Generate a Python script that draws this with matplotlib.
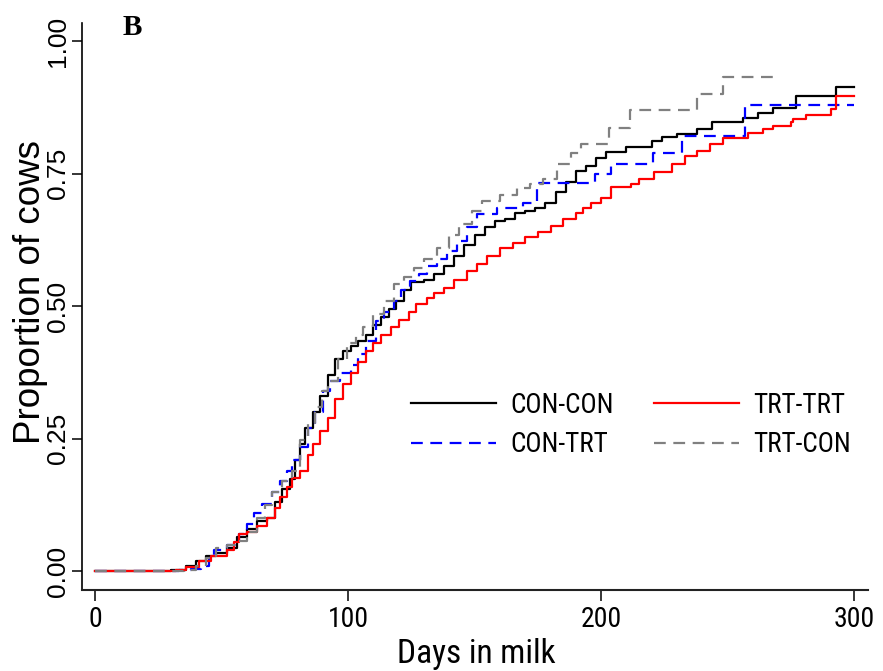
import matplotlib
matplotlib.use("Agg")
import matplotlib.pyplot as plt

# Kaplan-Meier style cumulative proportions (steps-post)
con_con_days = [0, 30, 36, 40, 44, 48, 52, 56, 60, 64, 68, 71, 74, 77, 79, 81, 83, 86, 89, 92,
                95, 98, 101, 104, 107, 110, 113, 116, 119, 122, 125, 130, 134, 138, 142, 146,
                150, 154, 158, 162, 166, 170, 174, 178, 182, 186, 190, 194, 198, 202, 210,
                220, 224, 230, 238, 244, 256, 262, 268, 277, 293, 300]
con_con_prop = [0, 0.003, 0.01, 0.02, 0.03, 0.035, 0.045, 0.065, 0.08, 0.095, 0.10, 0.13,
                0.155, 0.175, 0.21, 0.24, 0.27, 0.30, 0.33, 0.37, 0.40, 0.415, 0.425, 0.435,
                0.445, 0.465, 0.48, 0.495, 0.51, 0.53, 0.545, 0.55, 0.56, 0.575, 0.595, 0.615,
                0.635, 0.65, 0.66, 0.665, 0.675, 0.68, 0.685, 0.695, 0.715, 0.735, 0.755,
                0.765, 0.78, 0.79, 0.80, 0.812, 0.82, 0.825, 0.835, 0.847, 0.855, 0.865,
                0.874, 0.896, 0.913, 0.913]

trt_trt_days = [0, 32, 36, 41, 46, 52, 55, 57, 60, 64, 68, 71, 73, 76, 78, 81, 84, 86, 89, 92,
                95, 98, 101, 104, 107, 110, 113, 117, 120, 124, 127, 131, 134, 138, 142, 147,
                151, 155, 160, 165, 170, 175, 180, 185, 190, 193, 196, 200, 204, 212, 215,
                221, 228, 233, 238, 243, 248, 258, 264, 268, 275, 276, 281, 291, 293, 300]
trt_trt_prop = [0, 0.003, 0.008, 0.02, 0.03, 0.04, 0.055, 0.07, 0.075, 0.085, 0.10, 0.12,
                0.14, 0.16, 0.177, 0.19, 0.22, 0.241, 0.265, 0.29, 0.325, 0.354, 0.375, 0.395,
                0.415, 0.43, 0.445, 0.46, 0.475, 0.49, 0.505, 0.515, 0.525, 0.535, 0.55,
                0.567, 0.58, 0.595, 0.61, 0.62, 0.63, 0.64, 0.652, 0.665, 0.675, 0.686, 0.695,
                0.705, 0.725, 0.731, 0.74, 0.753, 0.768, 0.783, 0.793, 0.806, 0.817, 0.827,
                0.834, 0.84, 0.847, 0.853, 0.861, 0.872, 0.896, 0.896]

con_trt_days = [0, 33, 38, 42, 45, 47, 52, 57, 60, 63, 66, 70, 73, 76, 78, 81, 84, 87, 90, 93,
                97, 101, 104, 107, 111, 114, 118, 121, 124.5, 128, 131, 135, 139, 143, 147,
                151, 159, 169, 174.6, 197.5, 204, 220.5, 232, 257, 300]
con_trt_prop = [0, 0.003, 0.005, 0.01, 0.025, 0.04, 0.05, 0.07, 0.09, 0.11, 0.127, 0.15,
                0.17, 0.19, 0.21, 0.234, 0.27, 0.30, 0.34, 0.36, 0.375, 0.39, 0.41, 0.435,
                0.472, 0.49, 0.51, 0.53, 0.548, 0.56, 0.575, 0.59, 0.605, 0.623, 0.65, 0.674,
                0.686, 0.695, 0.733, 0.749, 0.768, 0.789, 0.821, 0.88, 0.88]

trt_con_days = [0, 35, 40, 44, 48, 52, 57, 60, 64, 67, 70, 74, 78, 81, 84, 87, 89.5, 92, 96,
                99.6, 103, 106, 110, 114, 118, 122, 126, 130, 135, 140, 144, 149, 153, 160,
                166.6, 172, 177, 182.6, 188, 192, 203, 211.5, 238, 248, 269]
trt_con_prop = [0, 0.003, 0.01, 0.025, 0.045, 0.05, 0.058, 0.075, 0.10, 0.125, 0.15, 0.17,
                0.19, 0.247, 0.28, 0.31, 0.34, 0.36, 0.40, 0.43, 0.445, 0.46, 0.486, 0.51,
                0.542, 0.555, 0.573, 0.59, 0.61, 0.635, 0.655, 0.68, 0.699, 0.71, 0.723,
                0.73, 0.74, 0.768, 0.789, 0.806, 0.836, 0.87, 0.90, 0.932, 0.932]

x_ticks = [0, 100, 200, 300]
y_ticks = [0, 0.25, 0.5, 0.75, 1.0]
y_ticklabels = ["0.00", "0.25", "0.50", "0.75", "1.00"]

# the reference text is horizontally squeezed -> condensed face for horizontal text
narrow = ["Roboto Condensed", "Liberation Sans", "DejaVu Sans"]
sans = ["Liberation Sans", "DejaVu Sans"]

fig = plt.figure(figsize=(8.83, 6.71), dpi=100)
ax = fig.add_axes([0.0929, 0.1207, 0.8902, 0.845])

dash = (0, (5.3, 3.4))
ax.plot(con_con_days, con_con_prop, drawstyle="steps-post", color="black", lw=1.6, label="CON-CON")
ax.plot(con_trt_days, con_trt_prop, drawstyle="steps-post", color="#0000ff", lw=1.6, ls=dash, label="CON-TRT")
ax.plot(trt_trt_days, trt_trt_prop, drawstyle="steps-post", color="#ff0000", lw=1.6, label="TRT-TRT")
ax.plot(trt_con_days, trt_con_prop, drawstyle="steps-post", color="#808080", lw=1.6, ls=dash, label="TRT-CON")

ax.set_xlim(-5.14, 305.5)
ax.set_ylim(-0.035, 1.034)

for side in ["top", "right"]:
    ax.spines[side].set_visible(False)
ax.spines["left"].set_linewidth(1.2)
ax.spines["bottom"].set_linewidth(1.5)
ax.spines["bottom"].set_color("#222222")

ax.set_xticks(x_ticks)
ax.set_xticklabels([str(v) for v in x_ticks], family=narrow, fontsize=20)
ax.set_yticks(y_ticks)
ax.set_yticklabels(y_ticklabels, family=sans, fontsize=19, rotation=90, va="center")
ax.tick_params(axis="x", length=8, width=1.1, pad=3.5, direction="out")
ax.tick_params(axis="y", length=7, width=1.1, pad=1.5, direction="out")

ax.set_xlabel("Days in milk", family=narrow, fontsize=24)
ax.xaxis.set_label_coords(0.501, -0.085)
ax.set_ylabel("Proportion of cows", family=sans, fontsize=26.5)
ax.yaxis.set_label_coords(-0.043, 0.526)

leg = ax.legend(ncol=2, loc="center", bbox_to_anchor=(0.698, 0.291), frameon=False,
                prop={"family": narrow, "size": 19.5}, handlelength=3.15,
                handletextpad=0.52, columnspacing=1.48, labelspacing=0.45, borderpad=0)

fig.text(123 / 883, 1 - 35 / 671, "B", family=["Liberation Serif", "DejaVu Serif"],
         fontweight="bold", fontsize=21, ha="left", va="baseline")

fig.savefig("out.png", dpi=100)
